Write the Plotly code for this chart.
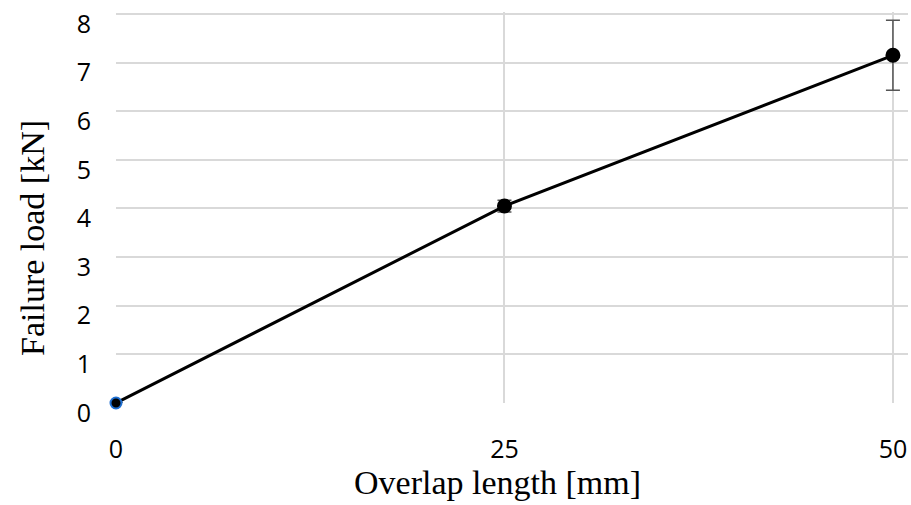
import plotly.graph_objects as go

overlap_mm = [0, 25, 50]
failure_kN = [0.0, 4.05, 7.15]
error_kN = [0.0, 0.12, 0.72]
x_ticks = [0, 25, 50]
y_ticks = [0, 1, 2, 3, 4, 5, 6, 7, 8]

fig = go.Figure()
fig.add_trace(go.Scatter(
    x=overlap_mm, y=failure_kN,
    mode="lines+markers",
    line=dict(color="black", width=3),
    marker=dict(size=[11, 13, 13], color="black", opacity=1,
                line=dict(color=["#1f6fd1", "black", "black"], width=2)),
    error_y=dict(type="data", array=error_kN, visible=True,
                 color="#555555", thickness=1.5, width=7),
    showlegend=False,
    cliponaxis=False,
))

fig.update_layout(
    width=911, height=505,
    margin=dict(l=116, r=3, t=12, b=102),
    plot_bgcolor="white", paper_bgcolor="white",
    xaxis=dict(
        range=[0, 50.97], tickvals=x_ticks, ticktext=[str(v) for v in x_ticks],
        showgrid=True, gridcolor="#d9d9d9", gridwidth=1.5,
        zeroline=False, showline=False, automargin=False,
        tickfont=dict(family="Open Sans", size=25, color="black"),
        ticklabelstandoff=29,
    ),
    yaxis=dict(
        range=[0, 8.04], tickvals=y_ticks,
        showgrid=True, gridcolor="#d9d9d9", gridwidth=1.5,
        zeroline=False, showline=False, automargin=False,
        tickfont=dict(family="Open Sans", size=25, color="black"),
        ticklabelstandoff=24, ticklabelshift=10, ticklabeloverflow="allow",
    ),
    annotations=[
        dict(text="Overlap length [mm]", xref="paper", yref="paper",
             x=(497 - 116) / 792, y=(403 - 482) / 391,
             xanchor="center", yanchor="middle", showarrow=False,
             font=dict(family="Liberation Serif", size=34, color="black")),
        dict(text="Failure load [kN]", xref="paper", yref="paper",
             x=0, xshift=-(116 - 33), y=(403 - 238) / 391,
             xanchor="center", yanchor="middle", textangle=-90, showarrow=False,
             font=dict(family="Liberation Serif", size=34, color="black")),
    ],
)

fig.write_html("out.html")
